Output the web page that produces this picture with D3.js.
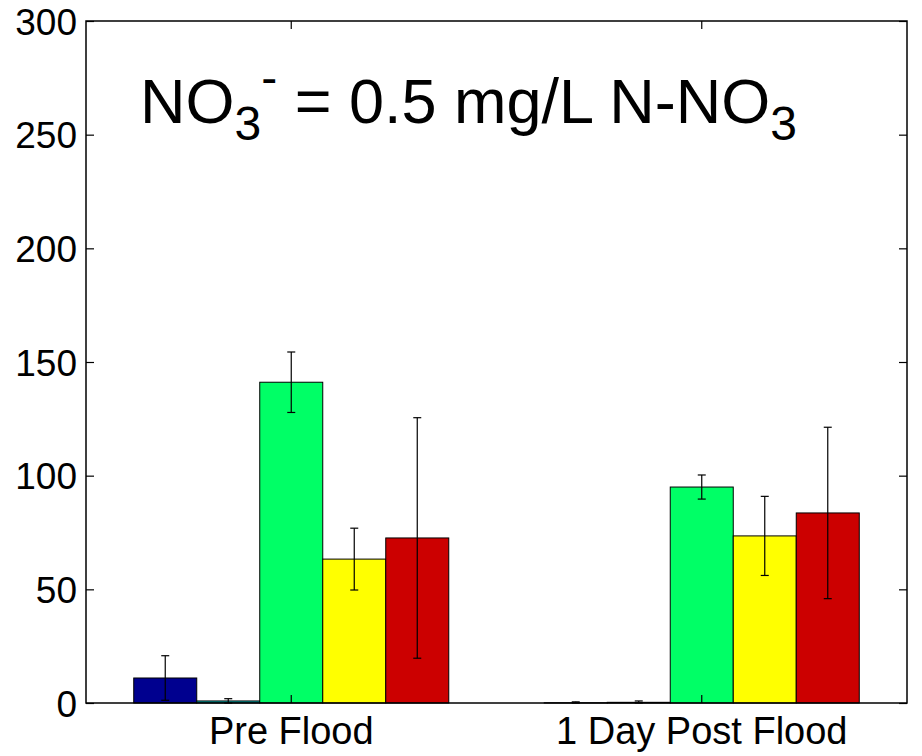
<!DOCTYPE html>
<html>
<head>
<meta charset="utf-8">
<script src="https://cdn.jsdelivr.net/npm/d3@7"></script>
<style>
  html, body { margin: 0; padding: 0; background: #fff; }
  svg text { font-family: "Liberation Sans", Arial, Helvetica, sans-serif; fill: #000; }
</style>
</head>
<body>
<svg id="chart" width="922" height="756"></svg>
<script>
// Sample groups and the five series plotted inside each group
const categories = ["Pre Flood", "1 Day Post Flood"];
const seriesNames = ["s1", "s2", "s3", "s4", "s5"];
const seriesColors = ["#00008f", "#00b3b3", "#00ff66", "#ffff00", "#cc0000"];

// Mean values per series (rows follow seriesNames, columns follow categories)
const meanValues = [
  [11.0, 0.1],
  [0.9, 0.3],
  [141.1, 95.0],
  [63.3, 73.5],
  [72.6, 83.6]
];
// Error-bar half-lengths
const errorValues = [
  [9.8, 0.4],
  [1.0, 0.6],
  [13.3, 5.3],
  [13.6, 17.4],
  [52.9, 37.7]
];
const yTicks = [0, 50, 100, 150, 200, 250, 300];

const svg = d3.select("#chart");
const plot = { left: 86, right: 907, top: 21, bottom: 703 };

const x0 = d3.scaleBand()
  .domain(categories)
  .range([plot.left, plot.right])
  .paddingInner(0.2326)
  .paddingOuter(0.1163);

const x1 = d3.scaleBand()
  .domain(seriesNames)
  .range([0, x0.bandwidth()])
  .padding(0);

const y = d3.scaleLinear().domain([0, 300]).range([plot.bottom, plot.top]);

// Flatten into one record per bar
const bars = [];
seriesNames.forEach((s, i) => {
  categories.forEach((c, j) => {
    bars.push({ series: s, cat: c, value: meanValues[i][j], err: errorValues[i][j], color: seriesColors[i] });
  });
});

// Bars
svg.append("g").selectAll("rect")
  .data(bars)
  .join("rect")
  .attr("x", d => x0(d.cat) + x1(d.series))
  .attr("y", d => y(d.value))
  .attr("width", x1.bandwidth())
  .attr("height", d => y(0) - y(d.value))
  .attr("fill", d => d.color)
  .attr("stroke", "#000")
  .attr("stroke-width", 1);

// Error bars
const eb = svg.append("g").attr("stroke", "#000").attr("stroke-width", 1.2);
const cap = 4;
bars.forEach(d => {
  const cx = x0(d.cat) + x1(d.series) + x1.bandwidth() / 2;
  const yHi = y(d.value + d.err), yLo = y(Math.max(0, d.value - d.err));
  eb.append("line").attr("x1", cx).attr("x2", cx).attr("y1", yHi).attr("y2", yLo);
  eb.append("line").attr("x1", cx - cap).attr("x2", cx + cap).attr("y1", yHi).attr("y2", yHi);
  eb.append("line").attr("x1", cx - cap).attr("x2", cx + cap).attr("y1", yLo).attr("y2", yLo);
});

// Frame
svg.append("rect")
  .attr("x", plot.left).attr("y", plot.top)
  .attr("width", plot.right - plot.left).attr("height", plot.bottom - plot.top)
  .attr("fill", "none").attr("stroke", "#000").attr("stroke-width", 1.5);

// Left y axis with inward ticks
const yAxisL = svg.append("g")
  .attr("transform", `translate(${plot.left},0)`)
  .call(d3.axisLeft(y).tickValues(yTicks).tickSizeInner(-8).tickSizeOuter(0).tickPadding(9));
yAxisL.select(".domain").remove();
yAxisL.selectAll("line").attr("stroke", "#000").attr("stroke-width", 1.2);
yAxisL.selectAll("text").attr("font-size", 37).attr("dy", "0.36em");

// Right y axis ticks (inward, no labels)
const yAxisR = svg.append("g")
  .attr("transform", `translate(${plot.right},0)`)
  .call(d3.axisRight(y).tickValues(yTicks).tickSizeInner(-8).tickSizeOuter(0).tickFormat(""));
yAxisR.select(".domain").remove();
yAxisR.selectAll("line").attr("stroke", "#000").attr("stroke-width", 1.2);

// Category ticks at the group centres, top and bottom
const xAxisB = svg.append("g")
  .attr("transform", `translate(0,${plot.bottom})`)
  .call(d3.axisBottom(x0).tickSizeInner(-8).tickSizeOuter(0).tickPadding(14));
xAxisB.select(".domain").remove();
xAxisB.selectAll("line").attr("stroke", "#000").attr("stroke-width", 1.2);
xAxisB.selectAll("text").attr("font-size", 38).attr("dy", "0.71em");

const xAxisT = svg.append("g")
  .attr("transform", `translate(0,${plot.top})`)
  .call(d3.axisTop(x0).tickSizeInner(-8).tickSizeOuter(0).tickFormat(""));
xAxisT.select(".domain").remove();
xAxisT.selectAll("line").attr("stroke", "#000").attr("stroke-width", 1.2);

// Panel title with chemical sub/superscripts
const title = svg.append("text")
  .attr("x", 140).attr("y", 123)
  .attr("font-size", 63);
title.append("tspan").text("NO");
title.append("tspan").attr("font-size", 48).attr("dy", 17).text("3");
title.append("tspan").attr("font-size", 48).attr("dy", -46).text("-");
title.append("tspan").attr("dy", 29).text(" = 0.5 mg/L N-NO");
title.append("tspan").attr("font-size", 48).attr("dy", 17).text("3");
</script>
</body>
</html>
